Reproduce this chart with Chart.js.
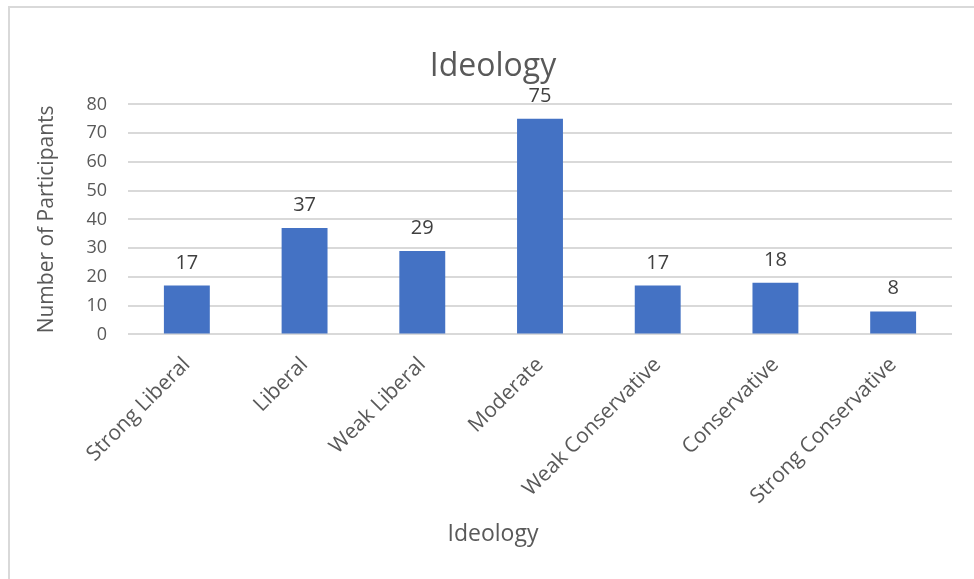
<!DOCTYPE html>
<html>
<head>
<meta charset="utf-8">
<script src="https://cdn.jsdelivr.net/npm/chart.js@4"></script>
<style>
  html, body { margin: 0; padding: 0; background: #ffffff; }
  #wrap { position: relative; width: 974px; height: 579px; overflow: hidden; }
  #frame {
    position: absolute; left: 8px; top: 6px; right: -4px; bottom: -4px;
    border-top: 2px solid #d9d9d9; border-left: 2px solid #d9d9d9;
  }
  #chart { position: absolute; left: 0; top: 0; }
</style>
</head>
<body>
<div id="wrap">
  <div id="frame"></div>
  <canvas id="chart" width="974" height="579"></canvas>
</div>
<script>
// Ideology categories and participant counts
const categories = [
  'Strong Liberal', 'Liberal', 'Weak Liberal', 'Moderate',
  'Weak Conservative', 'Conservative', 'Strong Conservative'
];
const participants = [17, 37, 29, 75, 17, 18, 8];
const yTicks = [0, 10, 20, 30, 40, 50, 60, 70, 80];

const FONT = "'Open Sans', 'Noto Sans', sans-serif";
const TEXT = '#595959';
const GRID = '#d9d9d9';
const BAR = '#4472c4';

// Writes each bar's value just above it
const valueLabels = {
  id: 'valueLabels',
  afterDatasetsDraw(chart) {
    const ctx = chart.ctx;
    const meta = chart.getDatasetMeta(0);
    const values = chart.data.datasets[0].data;
    ctx.save();
    ctx.font = '20px ' + FONT;
    ctx.fillStyle = '#404040';
    ctx.textAlign = 'center';
    ctx.textBaseline = 'alphabetic';
    meta.data.forEach((bar, i) => {
      ctx.fillText(String(values[i]), bar.x, bar.y - 17);
    });
    ctx.restore();
  }
};

new Chart(document.getElementById('chart'), {
  type: 'bar',
  data: {
    labels: categories,
    datasets: [{
      label: 'Number of Participants',
      data: participants,
      backgroundColor: BAR,
      borderWidth: 0,
      barPercentage: 0.39,
      categoryPercentage: 1.0
    }]
  },
  options: {
    responsive: false,
    animation: false,
    devicePixelRatio: 1,
    layout: { padding: { left: 34, right: 22, top: 0, bottom: 0 } },
    plugins: {
      legend: { display: false },
      tooltip: { enabled: false },
      title: {
        display: true,
        text: 'Ideology',
        color: TEXT,
        font: { family: FONT, size: 32, weight: 'normal' },
        padding: { top: 48, bottom: 18 }
      },
      subtitle: {
        display: true,
        position: 'bottom',
        text: 'Ideology',
        color: TEXT,
        font: { family: FONT, size: 23, weight: 'normal' },
        padding: { top: 0, bottom: 31 }
      }
    },
    scales: {
      x: {
        grid: { display: false, drawTicks: false },
        border: { display: false },
        ticks: {
          color: TEXT,
          font: { family: FONT, size: 21 },
          minRotation: 45,
          maxRotation: 45,
          autoSkip: false,
          padding: 18
        },
        afterFit(scale) { scale.height = 186; }
      },
      y: {
        min: 0,
        max: 80,
        afterBuildTicks(scale) { scale.ticks = yTicks.map(v => ({ value: v })); },
        grid: { color: GRID, lineWidth: 2, drawTicks: false },
        border: { display: false },
        ticks: {
          color: TEXT,
          font: { family: FONT, size: 18 },
          padding: 21
        },
        title: {
          display: true,
          text: 'Number of Participants',
          color: TEXT,
          font: { family: FONT, size: 21 },
          padding: { top: 0, bottom: 0 }
        },
        afterFit(scale) { scale.width = 94; }
      }
    }
  },
  plugins: [valueLabels]
});
</script>
</body>
</html>
